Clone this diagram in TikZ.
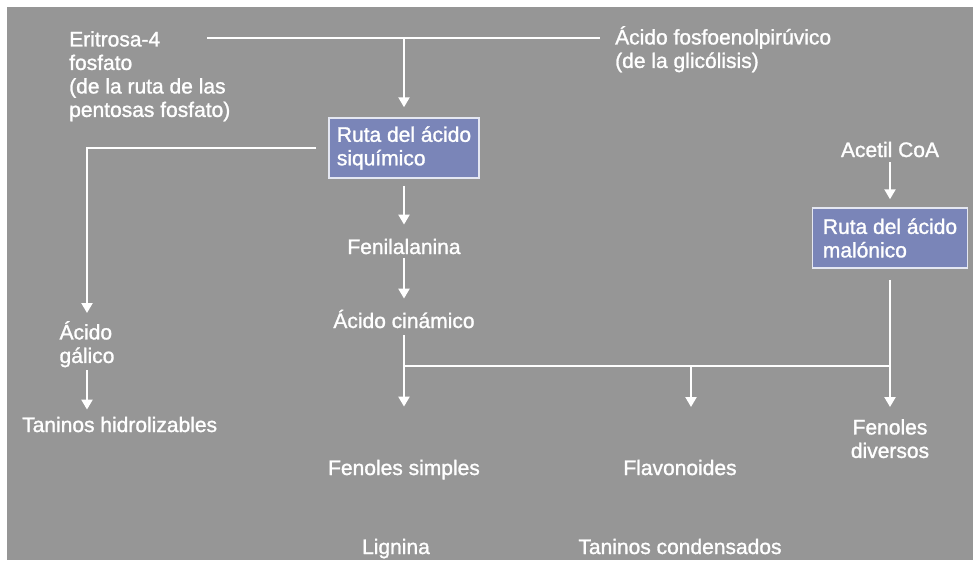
\documentclass[tikz,border=0pt]{standalone}
\usepackage{fontspec}
\setmainfont{Liberation Sans}[FakeBold=1.3]
\usetikzlibrary{arrows.meta}
\definecolor{bggray}{RGB}{150,150,150}
\definecolor{boxblue}{RGB}{122,133,184}
\definecolor{boxedge}{RGB}{228,231,242}
\begin{document}
\begin{tikzpicture}[x=1pt,y=-1pt,
  txt/.style={text=white, font=\fontsize{21}{23.5}\selectfont, inner sep=0pt},
  pathbox/.style={txt, draw=boxedge, line width=1.5pt, fill=boxblue, minimum width=150pt, minimum height=60pt, align=left},
  conn/.style={draw=white, line width=2.2pt},
  arr/.style={conn, -{Triangle[width=11pt,length=10pt]}}]
\useasboundingbox (0,0) rectangle (973,560);
\fill[white] (0,0) rectangle (973,560);
\fill[bggray] (7,7) rectangle (973,560);

% texts
\node[txt, anchor=north west, align=left] (eri) at (69,31) {Eritrosa-4\\fosfato\\(de la ruta de las\\pentosas fosfato)};
\node[txt, anchor=north west, align=left] (pep) at (615,26) {Ácido fosfoenolpirúvico\\(de la glicólisis)};
\node[pathbox] (shiq) at (404,148) {Ruta del ácido\\siquímico};
\node[txt, anchor=base] (acet) at (890,157) {Acetil CoA};
\node[pathbox, minimum width=155pt] (mal) at (890,238) {Ruta del ácido\\malónico};
\node[txt, anchor=base] (fen) at (404,254) {Fenilalanina};
\node[txt, anchor=base] (cin) at (404,328) {Ácido cinámico};
\node[txt, anchor=north, align=left] (gal) at (87,321) {Ácido\\gálico};
\node[txt, anchor=base west] (tanh) at (22,432) {Taninos hidrolizables};
\node[txt, anchor=north, align=center] (fdiv) at (890,419) {Fenoles\\diversos};
\node[txt, anchor=base] (fsim) at (404,475) {Fenoles simples};
\node[txt, anchor=base] (flav) at (680,475) {Flavonoides};
\node[txt, anchor=base] (lig) at (396,554) {Lignina};
\node[txt, anchor=base] (tcon) at (680,554) {Taninos condensados};

% junction coordinates
\coordinate (tl) at (207,38);
\coordinate (tr) at (600,38);
\coordinate (tj) at (shiq.north |- tl);
\coordinate (lc) at (gal.north |- shiq.west);
\coordinate (jl) at (404,366);
\coordinate (jm) at (691,366);
\coordinate (jr) at (890,366);
\coordinate (am) at (691,407);

% connectors
\draw[conn] (tl) -- (tr);
\draw[arr, shorten >=10pt] (tj) -- (shiq.north);
\draw[arr, shorten <=12pt, shorten >=8pt] (shiq.west) -- (lc) -- (gal.north);
\draw[arr, shorten <=3pt, shorten >=7pt] (gal.south) -- (gal.south |- tanh.north);
\draw[arr, shorten <=7pt, shorten >=14pt] (shiq.south) -- (fen.north);
\draw[arr, shorten <=4pt, shorten >=11pt] (fen.south) -- (cin.north);
\draw[conn, shorten <=7pt] (cin.south) -- (jl);
\draw[conn] (jl) -- (jr);
\draw[arr, shorten >=53pt] (jl) -- (fsim.north);
\draw[arr] (jm) -- (am);
\draw[arr, shorten <=5pt, shorten >=8pt] (acet.south) -- (mal.north);
\draw[conn, shorten <=11pt] (mal.south) -- (jr);
\draw[arr, shorten >=12pt] (jr) -- (fdiv.north);
\end{tikzpicture}
\end{document}
